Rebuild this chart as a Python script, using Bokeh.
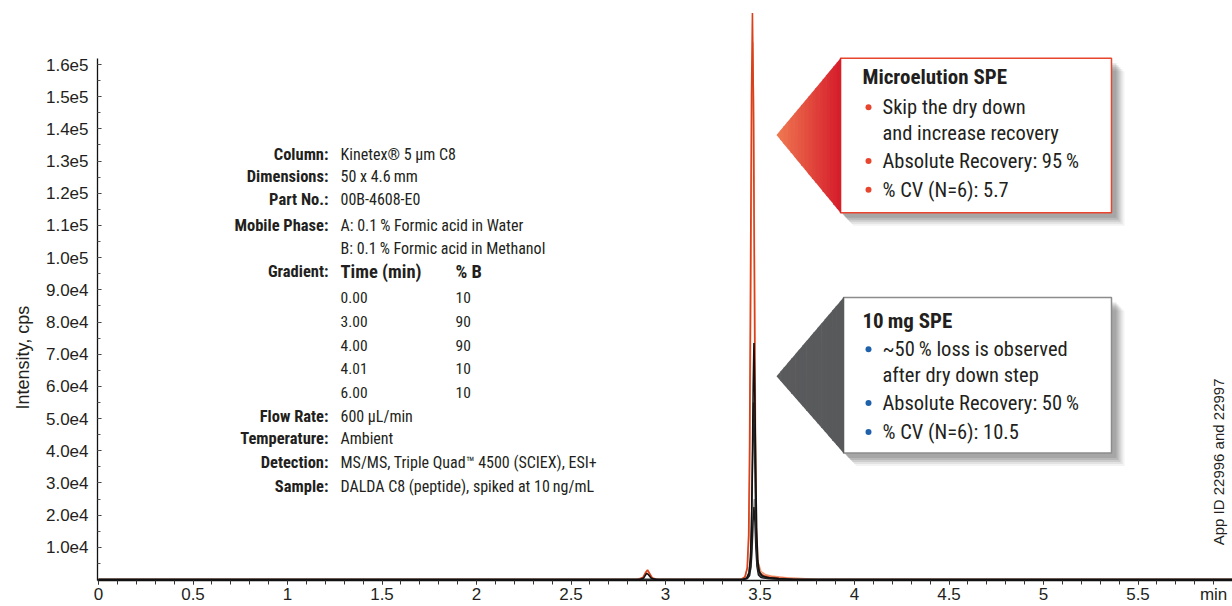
import math
from bokeh.plotting import figure
from bokeh.models import Range1d, FixedTicker, Title
from bokeh.core.properties import value
from bokeh.embed import file_html
from bokeh.resources import INLINE

# ---------------- data ----------------
x_ticks = [0, 0.5, 1, 1.5, 2, 2.5, 3, 3.5, 4, 4.5, 5, 5.5, 5.9]
x_labels = ["0", "0.5", "1", "1.5", "2", "2.5", "3", "3.5", "4", "4.5", "5", "5.5", "min"]
x_minor = [round(i * 0.1, 1) for i in range(0, 59)]
y_ticks = [10000, 20000, 30000, 40000, 50000, 60000, 70000, 80000, 90000,
           100000, 110000, 120000, 130000, 140000, 150000, 160000]
y_labels = ["1.0e4", "2.0e4", "3.0e4", "4.0e4", "5.0e4", "6.0e4", "7.0e4", "8.0e4", "9.0e4",
            "1.0e5", "1.1e5", "1.2e5", "1.3e5", "1.4e5", "1.5e5", "1.6e5"]
y_minor = [5000 * i for i in range(1, 33)]

# Microelution SPE traces (red)
red1_t = [0.00, 2.850, 2.880, 2.895, 2.905, 2.915, 2.930, 2.960, 3.400, 3.420, 3.432, 3.440, 3.445, 3.450,
          3.455, 3.460, 3.465, 3.470, 3.475, 3.480, 3.488, 3.500, 3.520, 3.550, 3.600, 3.660, 3.720, 6.0]
red1_i = [0, 0, 600, 2200, 3000, 2000, 500, 0, 0, 800, 3500, 14000, 42000, 95000,
          150000, 176000, 150000, 95000, 42000, 14000, 4500, 2000, 1200, 800, 500, 250, 0, 0]
red2_t = [0.00, 2.860, 2.885, 2.900, 2.910, 2.925, 2.950, 3.400, 3.422, 3.434, 3.442, 3.447, 3.452, 3.457,
          3.462, 3.467, 3.472, 3.477, 3.482, 3.490, 3.505, 3.530, 3.570, 3.640, 3.720, 3.800, 6.0]
red2_i = [0, 0, 700, 2600, 2300, 600, 0, 0, 900, 3800, 13000, 40000, 90000, 142000,
          167000, 142000, 92000, 44000, 16000, 5500, 2500, 1500, 1000, 600, 300, 0, 0]

# 10 mg SPE traces (black / grey)
blk1_t = [0.00, 2.865, 2.885, 2.900, 2.910, 2.925, 2.950, 3.410, 3.430, 3.442, 3.450, 3.455, 3.460, 3.464,
          3.468, 3.472, 3.477, 3.482, 3.488, 3.496, 3.510, 3.540, 3.600, 3.680, 6.0]
blk1_i = [0, 0, 500, 1900, 1500, 400, 0, 0, 500, 2200, 7000, 17000, 38000, 60000,
          73500, 60000, 36000, 16000, 6000, 2500, 1200, 600, 300, 0, 0]
blk2_t = [0.00, 3.410, 3.430, 3.442, 3.449, 3.454, 3.459, 3.463, 3.466, 3.470, 3.475, 3.480, 3.487,
          3.496, 3.515, 3.560, 3.640, 6.0]
blk2_i = [0, 0, 400, 1800, 6000, 14000, 30000, 46000, 55000, 45000, 27000, 12000, 4500,
          1800, 800, 400, 0, 0]
blk3_t = [0.00, 3.410, 3.432, 3.444, 3.452, 3.458, 3.463, 3.468, 3.473, 3.478, 3.484, 3.492,
          3.505, 3.540, 3.620, 6.0]
blk3_i = [0, 0, 300, 1200, 4000, 10000, 18000, 22500, 18000, 10000, 4000, 1400,
          600, 300, 0, 0]
gry_t = [0.00, 3.412, 3.434, 3.446, 3.454, 3.460, 3.465, 3.470, 3.475, 3.480, 3.486, 3.494,
         3.508, 3.545, 3.620, 6.0]
gry_i = [0, 0, 300, 1300, 4500, 11000, 20000, 25000, 20000, 11000, 4500, 1500,
         700, 300, 0, 0]

# method text
info_labels = ["Column:", "Dimensions:", "Part No.:", "Mobile Phase:", "", "Gradient:",
               "Flow Rate:", "Temperature:", "Detection:", "Sample:"]
info_values = ["Kinetex\u00ae 5 \u00b5m C8", "50 x 4.6\u2009mm", "00B-4608-E0",
               "A: 0.1\u2009% Formic acid in Water", "B: 0.1\u2009% Formic acid in Methanol", "",
               "600 \u00b5L/min", "Ambient", "MS/MS, Triple Quad\u2122 4500 (SCIEX), ESI+",
               "DALDA C8 (peptide), spiked at 10\u2009ng/mL"]
info_rows_py = [155, 177, 200, 226, 249, 272, 417, 440, 464, 488]
grad_header = ["Time (min)", "% B"]
grad_time = ["0.00", "3.00", "4.00", "4.01", "6.00"]
grad_b = ["10", "90", "90", "10", "10"]
grad_rows_py = [298, 322, 346, 369, 393]

micro_title = "Microelution SPE"
micro_lines = ["Skip the dry down", "and increase recovery", "Absolute Recovery: 95\u2009%", "% CV (N=6): 5.7"]
micro_bullet = [True, False, True, True]
spe_title = "10\u2009mg SPE"
spe_lines = ["~50\u2009% loss is observed", "after dry down step", "Absolute Recovery: 50\u2009%", "% CV (N=6): 10.5"]
spe_bullet = [True, False, True, True]

y_title = "Intensity, cps"
side_note = "App ID 22996 and 22997"

# ---------------- layout ----------------
W, H = 1232, 606
FL, FR, FT, FB = 97, 1232, 0, 582          # frame edges, pixels
PXMIN = 189.0
X_START = (FL - 98) / PXMIN
X_END = X_START + (FR - FL) / PXMIN
Y_START = -300
Y_END = Y_START + (FB - FT) / 0.00323


def dx(px):
    return X_START + (px - FL) / (FR - FL) * (X_END - X_START)


def dy(py):
    return Y_START + (FB - py) / (FB - FT) * (Y_END - Y_START)


NARROW = "Roboto Condensed, Liberation Sans Narrow, DejaVu Sans Condensed, sans-serif"
SANS = "Liberation Sans, Arial, sans-serif"
TXT = "#231f20"

p = figure(width=W, height=H, x_range=Range1d(X_START, X_END), y_range=Range1d(Y_START, Y_END),
           output_backend="svg", toolbar_location=None,
           min_border_left=FL, min_border_right=0, min_border_top=FT,
           min_border_bottom=H - FB)
p.outline_line_color = None
p.xgrid.visible = False
p.ygrid.visible = False
p.background_fill_color = "white"
p.border_fill_color = "white"

xa = p.xaxis[0]
xa.ticker = FixedTicker(ticks=x_ticks, minor_ticks=x_minor)
xa.major_label_overrides = {t: l for t, l in zip(x_ticks, x_labels)}
xa.axis_line_width = 1.6
xa.axis_line_color = "#111111"
xa.major_tick_in = 0
xa.major_tick_out = 4
xa.minor_tick_in = 0
xa.minor_tick_out = 4
xa.major_tick_line_color = "#333333"
xa.minor_tick_line_color = "#333333"
xa.major_label_standoff = 0
xa.major_label_text_font = SANS
xa.major_label_text_font_size = "17px"
xa.major_label_text_color = TXT

ya = p.yaxis[0]
ya.ticker = FixedTicker(ticks=y_ticks, minor_ticks=y_minor)
ya.major_label_overrides = {t: l for t, l in zip(y_ticks, y_labels)}
ya.bounds = (Y_START, 162000)
ya.axis_line_width = 1.3
ya.axis_line_color = "#111111"
ya.major_tick_in = 4
ya.major_tick_out = 0
ya.minor_tick_in = 3
ya.minor_tick_out = 0
ya.major_tick_line_color = "#333333"
ya.minor_tick_line_color = "#555555"
ya.major_label_standoff = 9
ya.major_label_text_font = SANS
ya.major_label_text_font_size = "17px"
ya.major_label_text_color = TXT

p.add_layout(Title(text=y_title, align="left", offset=171, text_font=SANS,
                   text_font_size="18px", text_font_style="normal", text_color=TXT,
                   standoff=19), "left")

# ---------------- traces ----------------
p.line(red2_t, red2_i, line_color="#f0956c", line_width=1.4)
p.line(red1_t, red1_i, line_color="#d9411c", line_width=1.6)
p.line(gry_t, gry_i, line_color="#9a9a9a", line_width=1.4)
p.line(blk3_t, blk3_i, line_color="#1a1a1a", line_width=1.5)
p.line(blk2_t, blk2_i, line_color="#333333", line_width=1.5)
p.line(blk1_t, blk1_i, line_color="#111111", line_width=1.6)


# ---------------- callouts ----------------
def hexmix(c1, c2, f):
    a = [int(c1[i:i + 2], 16) for i in (1, 3, 5)]
    b = [int(c2[i:i + 2], 16) for i in (1, 3, 5)]
    return "#%02x%02x%02x" % tuple(round(a[k] + (b[k] - a[k]) * f) for k in range(3))


def callout(left, right, top, bottom, apex_x, apex_y, border, fill_a, fill_b):
    for d, al in [(13, 0.06), (11, 0.09), (9, 0.12), (7, 0.14), (5, 0.14)]:
        xs = [apex_x + d, left + d, right + d, right + d, left + d]
        ys = [apex_y + d, top + d, top + d, bottom + d, bottom + d]
        p.patch([dx(v) for v in xs], [dy(v) for v in ys], fill_color="#3a3a3a", fill_alpha=al,
                line_color=None)
    p.quad(left=dx(left), right=dx(right), top=dy(top), bottom=dy(bottom),
           fill_color="white", line_color=border, line_width=1.5)
    n = 18

    def top_at(x):
        return apex_y - (x - apex_x) / (left - apex_x) * (apex_y - top)

    def bot_at(x):
        return apex_y + (x - apex_x) / (left - apex_x) * (bottom - apex_y)

    for k in range(n):
        xa_ = apex_x + (left - apex_x) * k / n
        xb_ = min(apex_x + (left - apex_x) * (k + 1) / n + 0.6, left + 0.7)
        xs = [xa_, xb_, xb_, xa_]
        ys = [top_at(xa_), top_at(xb_), bot_at(xb_), bot_at(xa_)]
        p.patch([dx(v) for v in xs], [dy(v) for v in ys],
                fill_color=hexmix(fill_a, fill_b, (k + 0.5) / n), line_color=None)


callout(840, 1111, 58, 213, 776, 135, "#e8452f", "#ef7a50", "#d61c2b")
callout(843, 1111, 298, 454, 776, 377, "#8c8c8c", "#5a5b5d", "#58595b")


def box_text(title, lines, bullets, title_py, line_pys, bullet_color):
    p.text(x=[dx(862)], y=[dy(title_py)], text=[title], text_font=value(NARROW),
           text_font_style="bold", text_font_size="21px", text_color=TXT,
           text_align="left", text_baseline="middle")
    p.text(x=[dx(882)] * len(lines), y=[dy(v) for v in line_pys], text=lines,
           text_font=value(NARROW), text_font_size="20.5px", text_color=TXT,
           text_align="left", text_baseline="middle")
    bx = [dx(868) for b in bullets if b]
    by = [dy(v) for v, b in zip(line_pys, bullets) if b]
    p.scatter(bx, by, size=6, fill_color=bullet_color, line_color=None)


box_text(micro_title, micro_lines, micro_bullet, 77, [107, 133, 161, 190], "#e8452f")
box_text(spe_title, spe_lines, spe_bullet, 322, [350, 376, 404, 433], "#1f62ab")

# ---------------- method text ----------------
p.text(x=[dx(328)] * len(info_labels), y=[dy(v) for v in info_rows_py], text=info_labels,
       text_font=value(NARROW), text_font_style="bold", text_font_size="16.5px", text_color=TXT,
       text_align="right", text_baseline="middle")
p.text(x=[dx(340)] * len(info_values), y=[dy(v) for v in info_rows_py], text=info_values,
       text_font=value(NARROW), text_font_size="16px", text_color=TXT,
       text_align="left", text_baseline="middle")
p.text(x=[dx(340), dx(455)], y=[dy(272)] * 2, text=grad_header,
       text_font=value(NARROW), text_font_style="bold", text_font_size="18.5px", text_color=TXT,
       text_align="left", text_baseline="middle")
p.text(x=[dx(340)] * len(grad_time), y=[dy(v) for v in grad_rows_py], text=grad_time,
       text_font=value(NARROW), text_font_size="15.5px", text_color=TXT,
       text_align="left", text_baseline="middle")
p.text(x=[dx(455)] * len(grad_b), y=[dy(v) for v in grad_rows_py], text=grad_b,
       text_font=value(NARROW), text_font_size="15.5px", text_color=TXT,
       text_align="left", text_baseline="middle")

# app id
p.text(x=[dx(1218)], y=[dy(463)], text=[side_note], angle=math.pi / 2,
       text_font=value(SANS), text_font_size="15px", text_color=TXT,
       text_align="center", text_baseline="middle")

open("out.html", "w").write(file_html(p, INLINE))
